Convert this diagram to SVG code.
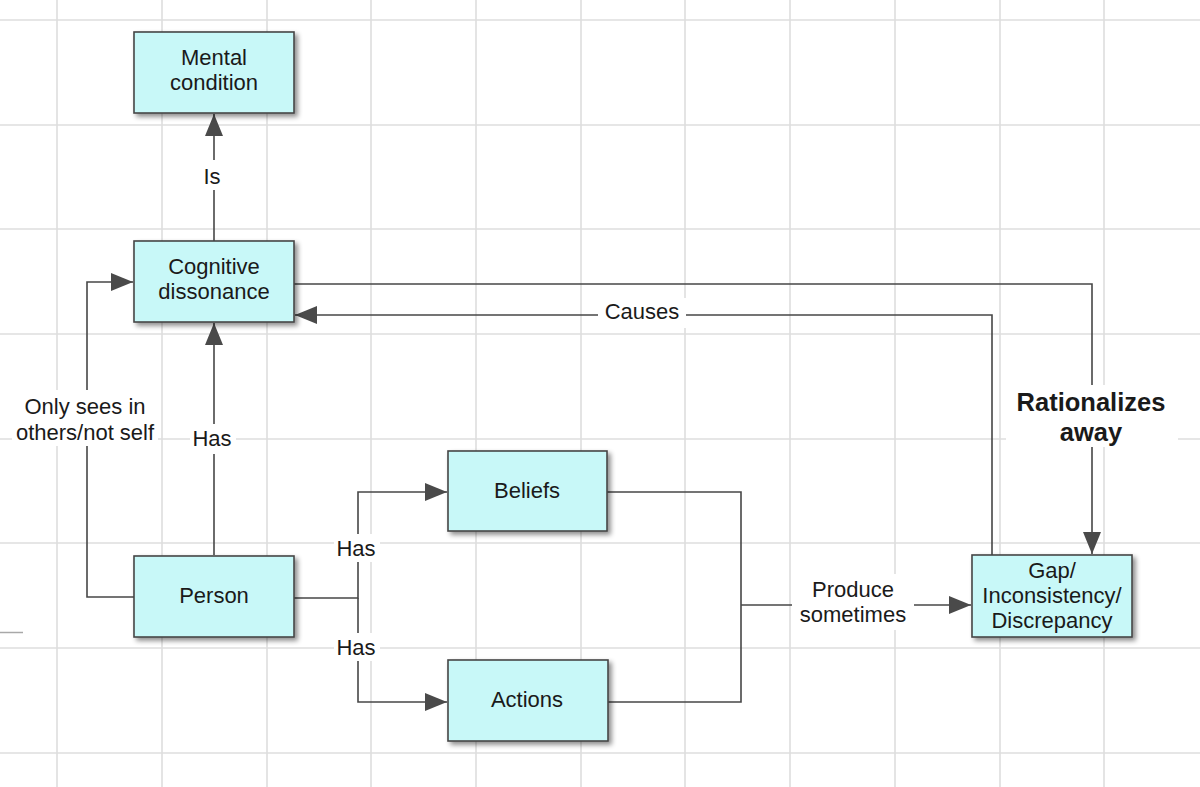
<svg xmlns="http://www.w3.org/2000/svg" width="1200" height="787" viewBox="0 0 1200 787">
<defs>
<style>
.grid line{stroke:#dedede;stroke-width:1.6}
.node rect.box{fill:#c8f8f8;stroke:#464646;stroke-width:1.6}
.node text,.lbl text{font-family:"Liberation Sans",Arial,sans-serif;font-size:22px;fill:#1a1a1a;text-anchor:middle}
.lbl rect{fill:#ffffff}
.conn path{fill:none;stroke:#474747;stroke-width:1.6}
.lbl text.bold{font-weight:bold;font-size:25.5px}
</style>
<filter id="sh" x="-10%" y="-10%" width="130%" height="140%">
<feGaussianBlur in="SourceAlpha" stdDeviation="2.5"/>
<feOffset dx="3" dy="3" result="b"/>
<feComponentTransfer><feFuncA type="linear" slope="0.45"/></feComponentTransfer>
<feMerge><feMergeNode/><feMergeNode in="SourceGraphic"/></feMerge>
</filter>
<marker id="ah" viewBox="0 0 22 18" refX="22" refY="9" markerWidth="22" markerHeight="18" markerUnits="userSpaceOnUse" orient="auto">
<path d="M0,0 L22,9 L0,18 Z" fill="#4a4a4a"/>
</marker>
</defs>
<rect width="1200" height="787" fill="#ffffff"/>
<g class="grid">
<line x1="57" y1="0" x2="57" y2="787"/>
<line x1="162" y1="0" x2="162" y2="787"/>
<line x1="267" y1="0" x2="267" y2="787"/>
<line x1="371" y1="0" x2="371" y2="787"/>
<line x1="476" y1="0" x2="476" y2="787"/>
<line x1="581" y1="0" x2="581" y2="787"/>
<line x1="685" y1="0" x2="685" y2="787"/>
<line x1="790" y1="0" x2="790" y2="787"/>
<line x1="895" y1="0" x2="895" y2="787"/>
<line x1="1000" y1="0" x2="1000" y2="787"/>
<line x1="1104" y1="0" x2="1104" y2="787"/>
<line x1="0" y1="20" x2="1200" y2="20"/>
<line x1="0" y1="125" x2="1200" y2="125"/>
<line x1="0" y1="229" x2="1200" y2="229"/>
<line x1="0" y1="334" x2="1200" y2="334"/>
<line x1="0" y1="439" x2="1200" y2="439"/>
<line x1="0" y1="543" x2="1200" y2="543"/>
<line x1="0" y1="648" x2="1200" y2="648"/>
<line x1="0" y1="753" x2="1200" y2="753"/>
</g>
<line x1="0" y1="632.5" x2="23" y2="632.5" stroke="#a8a8a8" stroke-width="1.5"/>
<g class="conn">
<path d="M214,241 L214,114" marker-end="url(#ah)"/>
<path d="M214,555 L214,323" marker-end="url(#ah)"/>
<path d="M134,597 L87,597 L87,282 L133,282" marker-end="url(#ah)"/>
<path d="M294,598 L358,598 L358,492 L447,492" marker-end="url(#ah)"/>
<path d="M358,598 L358,702 L447,702" marker-end="url(#ah)"/>
<path d="M607,492 L741,492 L741,702 L608,702"/>
<path d="M741,605 L971,605" marker-end="url(#ah)"/>
<path d="M294,284 L1092,284 L1092,554" marker-end="url(#ah)"/>
<path d="M992,555 L992,315 L295,315" marker-end="url(#ah)"/>
</g>
<g class="lbl" id="lbl-is"><rect x="199" y="160" width="28" height="30"/><text x="212" y="184">Is</text></g>
<g class="lbl" id="lbl-has1"><rect x="190" y="424" width="46" height="30"/><text x="212" y="446">Has</text></g>
<g class="lbl" id="lbl-only"><rect x="12" y="390" width="146" height="56"/><text x="85" y="414">Only sees in</text><text x="85" y="440">others/not self</text></g>
<g class="lbl" id="lbl-has2"><rect x="334" y="534" width="46" height="28"/><text x="356" y="556">Has</text></g>
<g class="lbl" id="lbl-has3"><rect x="334" y="633" width="46" height="28"/><text x="356" y="655">Has</text></g>
<g class="lbl" id="lbl-produce"><rect x="792" y="574" width="122" height="56"/><text x="853" y="597">Produce</text><text x="853" y="622">sometimes</text></g>
<g class="lbl" id="lbl-rat"><rect x="1006" y="385" width="172" height="62"/><text class="bold" x="1091" y="411">Rationalizes</text><text class="bold" x="1091" y="441">away</text></g>
<g class="lbl" id="lbl-causes"><rect x="598" y="298" width="88" height="30"/><text x="642" y="319">Causes</text></g>
<g class="node" id="n-mental"><rect class="box" x="134" y="32" width="160" height="81" filter="url(#sh)"/><text x="214" y="65">Mental</text><text x="214" y="90">condition</text></g>
<g class="node" id="n-cog"><rect class="box" x="134" y="241" width="160" height="81" filter="url(#sh)"/><text x="214" y="274">Cognitive</text><text x="214" y="299">dissonance</text></g>
<g class="node" id="n-person"><rect class="box" x="134" y="556" width="160" height="81" filter="url(#sh)"/><text x="214" y="603">Person</text></g>
<g class="node" id="n-beliefs"><rect class="box" x="448" y="451" width="159" height="80" filter="url(#sh)"/><text x="527" y="498">Beliefs</text></g>
<g class="node" id="n-actions"><rect class="box" x="448" y="660" width="160" height="81" filter="url(#sh)"/><text x="527" y="707">Actions</text></g>
<g class="node" id="n-gap"><rect class="box" x="972" y="555" width="160" height="82" filter="url(#sh)"/><text x="1052" y="578">Gap/</text><text x="1052" y="603">Inconsistency/</text><text x="1052" y="628">Discrepancy</text></g>
</svg>
